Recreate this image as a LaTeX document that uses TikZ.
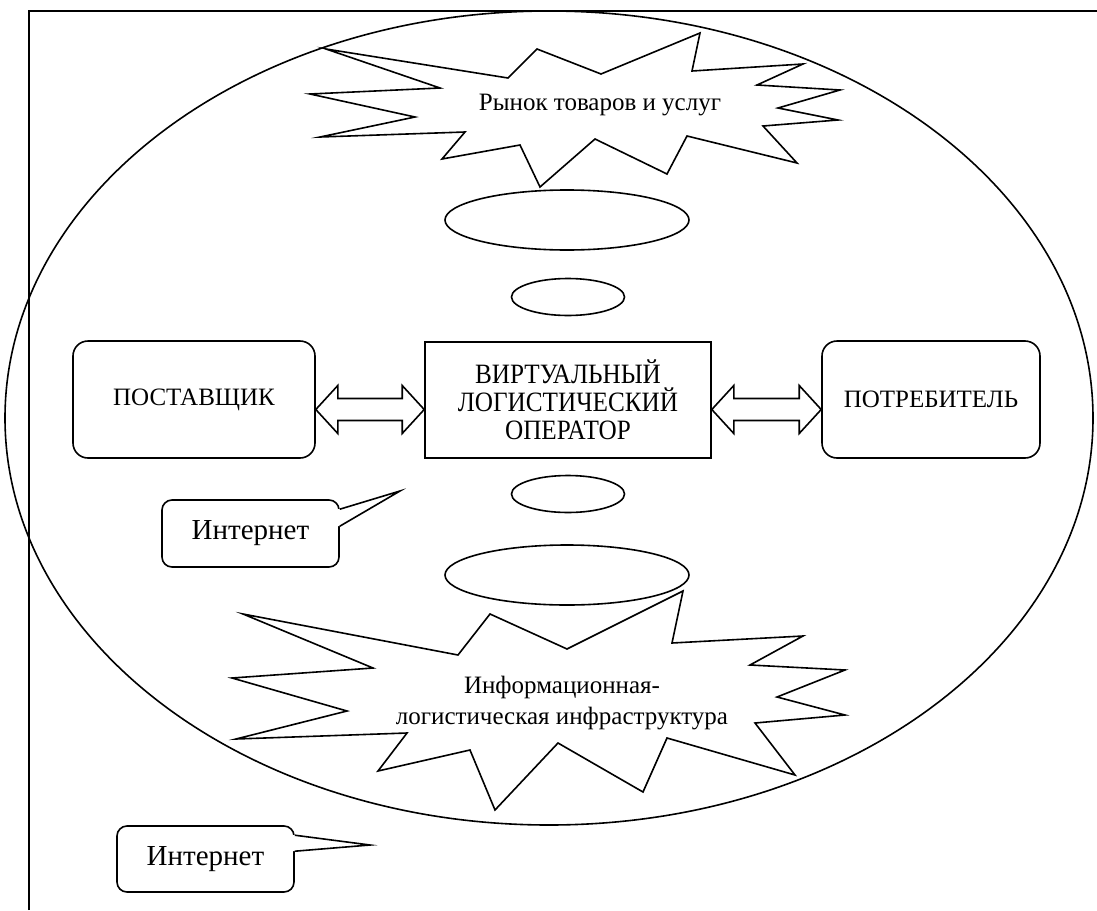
\documentclass[tikz,border=0pt]{standalone}
\usepackage{fontspec}
\setmainfont{Liberation Serif}
\newfontfamily\condserif[FakeStretch=0.9]{Liberation Serif}
\usetikzlibrary{calc,shapes.geometric}
\begin{document}
\begin{tikzpicture}[x=1pt,y=-1pt,line width=1.6pt,line join=miter,
  txt/.style={font=\fontsize{25}{31}\selectfont,align=center,inner sep=0pt},
  rbox/.style={draw,fill=white,rounded corners=15pt,inner sep=0pt,font=\fontsize{25}{30}\selectfont},
  sbox/.style={draw,fill=white,inner sep=0pt,align=center,font=\condserif\fontsize{28}{28}\selectfont},
  cbox/.style={draw,fill=white,rounded corners=10pt,inner sep=0pt,font=\fontsize{29}{34}\selectfont},
  oval/.style={draw,fill=white,ellipse,inner sep=0pt},
  burst/.style={draw,fill=white,line join=miter,miter limit=20},
  barrow/.style={draw,fill=white,line join=miter,miter limit=10}]
\useasboundingbox (0,0) rectangle (1097,910);
% frame
\draw[line width=2pt] (29,910) -- (29,11) -- (1097,11);
% big ellipse
\draw (549,418) ellipse [x radius=544, y radius=407];
% top starburst
\draw[burst] (326,49) -- (508,78) -- (537,49) -- (601,74) -- (700,33) -- (692,71) -- (803,64) -- (757,85) -- (840,90) -- (778,108) -- (838,120) -- (763,126) -- (797,163) -- (687,136) -- (667,174) -- (595,139) -- (540,187) -- (520,145) -- (442,159) -- (465,132) -- (320,137) -- (415,117) -- (310,94) -- (440,88) -- cycle;
\node[txt] (market) at (600,105) {Рынок товаров и услуг};
% bottom starburst
\draw[burst] (243,614) -- (458,655) -- (490,614) -- (567,649) -- (683,591) -- (672,643) -- (803,636) -- (750,665) -- (845,670) -- (777,697) -- (845,715) -- (755,723) -- (795,775) -- (667,738) -- (643,792) -- (558,743) -- (495,810) -- (470,750) -- (378,771) -- (407,733) -- (236,739) -- (347,711) -- (232,678) -- (373,668) -- cycle;
\node[txt] (infra) at (562,703) {Информационная-\\логистическая инфраструктура};
% small ellipses
\node[oval,minimum width=244pt,minimum height=60pt] (e1) at (567,220) {};
\node[oval,minimum width=113pt,minimum height=37pt] (e2) at (568,297) {};
\node[oval,minimum width=113pt,minimum height=37pt] (e3) at (568,494) {};
\node[oval,minimum width=244pt,minimum height=60pt] (e4) at (567,575) {};
% boxes
\node[rbox,minimum width=242pt,minimum height=117pt] (sup) at (194,399.5) {ПОСТАВЩИК};
\node[sbox,minimum width=286pt,minimum height=116pt] (op) at (568,400) {ВИРТУАЛЬНЫЙ\\ЛОГИСТИЧЕСКИЙ\\ОПЕРАТОР};
\node[rbox,minimum width=218pt,minimum height=117pt] (cons) at (931,399.5) {ПОТРЕБИТЕЛЬ};
% double arrows
\coordinate (a1) at ($(sup.east)+(0,10)$);
\coordinate (a2) at (op.west |- a1);
\coordinate (a3) at (op.east |- a1);
\coordinate (a4) at (cons.west |- a1);
\draw[barrow] let \p1=(a1), \p2=(a2) in
  (sup.east |- a1) -- (\x1+22pt,\y1+24pt) -- (\x1+22pt,\y1+11pt) -- (\x2-22pt,\y1+11pt) -- (\x2-22pt,\y1+24pt) -- (a2)
  -- (\x2-22pt,\y1-24pt) -- (\x2-22pt,\y1-11pt) -- (\x1+22pt,\y1-11pt) -- (\x1+22pt,\y1-24pt) -- cycle;
\draw[barrow] let \p1=(a3), \p2=(a4) in
  (op.east |- a3) -- (\x1+22pt,\y1+24pt) -- (\x1+22pt,\y1+11pt) -- (\x2-22pt,\y1+11pt) -- (\x2-22pt,\y1+24pt) -- (a4)
  -- (\x2-22pt,\y1-24pt) -- (\x2-22pt,\y1-11pt) -- (\x1+22pt,\y1-11pt) -- (\x1+22pt,\y1-24pt) -- cycle;
% callout 1
\node[cbox,minimum width=177pt,minimum height=67pt] (i1) at (250.5,533.5) {Интернет};
\coordinate (t1) at (400,491);
\fill[white] ($(i1.north east)+(-2,10)$) -- ($(i1.north east)+(1,10)$) -- (t1) -- ($(i1.north east)+(1,27)$) -- ($(i1.north east)+(-2,27)$) -- cycle;
\draw ($(i1.north east)+(0,10)$) -- (t1) -- ($(i1.north east)+(0,27)$);
% callout 2
\node[cbox,minimum width=177pt,minimum height=66pt] (i2) at (205.5,859) {Интернет};
\coordinate (t2) at (370,845);
\fill[white] ($(i2.north east)+(-2,10)$) -- ($(i2.north east)+(1,10)$) -- (t2) -- ($(i2.north east)+(1,26)$) -- ($(i2.north east)+(-2,26)$) -- cycle;
\draw ($(i2.north east)+(0,10)$) -- (t2) -- ($(i2.north east)+(0,26)$);
\end{tikzpicture}
\end{document}
